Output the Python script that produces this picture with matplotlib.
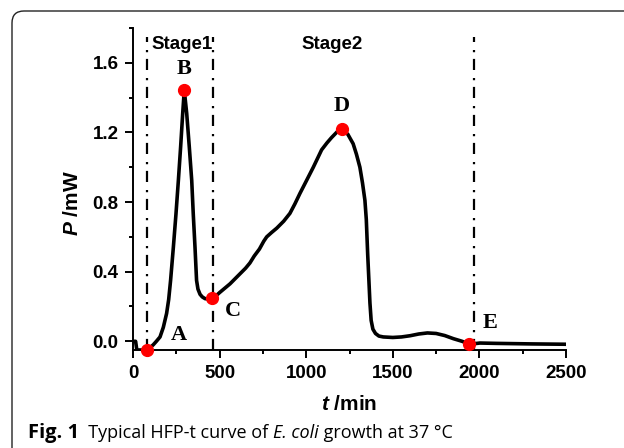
import matplotlib
matplotlib.use('Agg')
import matplotlib.pyplot as plt
from matplotlib.patches import FancyBboxPatch
from matplotlib.transforms import IdentityTransform
from matplotlib.ticker import MultipleLocator

plt.rcParams['font.family'] = ['Liberation Sans', 'DejaVu Sans']
plt.rcParams['mathtext.fontset'] = 'custom'
plt.rcParams['mathtext.it'] = 'Liberation Sans:italic:bold'

# HFP-t curve
t = [0, 15, 22, 80, 100, 117, 135, 156, 175, 194, 206, 217, 233, 248, 262,
     275, 287, 296, 310, 325, 339, 348, 358, 367, 375, 387, 400, 416, 435,
     454, 480, 500, 530, 560, 590, 620, 650, 675, 700, 730, 755, 772, 800,
     830, 870, 906, 935, 964, 1000, 1041, 1065, 1089, 1120, 1146, 1180,
     1204, 1240, 1271, 1290, 1310, 1325, 1339, 1347, 1355, 1362, 1368,
     1375, 1385, 1400, 1420, 1445, 1500, 1550, 1600, 1650, 1700, 1750,
     1800, 1850, 1900, 1942, 2003, 2100, 2300, 2500]
P = [0.0, 0.0, -0.05, -0.05, -0.035, -0.02, 0.0, 0.025, 0.08, 0.16, 0.24,
     0.35, 0.54, 0.73, 0.925, 1.117, 1.31, 1.443, 1.31, 1.117, 0.925, 0.73,
     0.54, 0.35, 0.30, 0.27, 0.255, 0.245, 0.243, 0.245, 0.262, 0.28, 0.305,
     0.33, 0.36, 0.39, 0.42, 0.45, 0.49, 0.53, 0.575, 0.60, 0.625, 0.65,
     0.69, 0.735, 0.79, 0.85, 0.92, 1.00, 1.05, 1.10, 1.14, 1.17, 1.205,
     1.216, 1.19, 1.135, 1.075, 1.00, 0.91, 0.81, 0.70, 0.50, 0.35, 0.22,
     0.12, 0.07, 0.045, 0.03, 0.025, 0.022, 0.025, 0.032, 0.042, 0.048,
     0.045, 0.033, 0.015, 0.0, -0.017, -0.01, -0.012, -0.015, -0.017]

pt_t = [80, 296, 454, 1204, 1942]
pt_P = [-0.05, 1.443, 0.247, 1.218, -0.017]
pt_lab = ['A', 'B', 'C', 'D', 'E']
lab_t = [265, 294, 579, 1207, 2061]
lab_P = [0.034, 1.563, 0.175, 1.351, 0.106]

stage_x = [80, 460, 1966]
stage_names = ['Stage1', 'Stage2']
stage_t = [281, 1149]

fig = plt.figure(figsize=(6.24, 4.48), dpi=100)
ax = fig.add_axes([133/624, 1-350/448, 433/624, 322/448])

ax.plot(t, P, color='black', lw=2.6, solid_joinstyle='round',
        solid_capstyle='round', zorder=3)
for x in stage_x:
    ax.plot([x, x], [-0.05, 1.75], color='black', lw=1.6,
            linestyle=(0, (5, 3, 1, 3.6)), zorder=2)
ax.plot(pt_t, pt_P, 'o', color='#ff0000', ms=8.5, zorder=5, clip_on=False)

for lab, x, y in zip(pt_lab, lab_t, lab_P):
    ax.text(x, y, lab, ha='center', va='center', fontsize=16,
            fontweight='bold', family='Liberation Serif')
for name, x in zip(stage_names, stage_t):
    ax.text(x, 1.703, name, ha='center', va='center', fontsize=13.5,
            fontweight='bold')

ax.set_xlim(0, 2500)
ax.set_ylim(-0.05, 1.8)
ax.xaxis.set_major_locator(MultipleLocator(500))
ax.xaxis.set_minor_locator(MultipleLocator(250))
ax.set_yticks([0.0, 0.4, 0.8, 1.2, 1.6])
ax.yaxis.set_minor_locator(MultipleLocator(0.2))
ax.set_yticklabels(['0.0', '0.4', '0.8', '1.2', '1.6'])
for s in ['top', 'right']:
    ax.spines[s].set_visible(False)
for s in ['left', 'bottom']:
    ax.spines[s].set_linewidth(1.4)
ax.tick_params(which='major', direction='out', length=6, width=1.4,
               labelsize=13.5, pad=4.5)
ax.tick_params(which='minor', direction='out', length=3, width=1.4)
for lbl in ax.get_xticklabels() + ax.get_yticklabels():
    lbl.set_fontweight('bold')

fig.text(72/624, 1-203/448, r'$P$ /mW', rotation=90, ha='center',
         va='center', fontsize=15, fontweight='bold')
fig.text(349.5/624, 1-404/448, r'$t$ /min', ha='center', va='center',
         fontsize=15, fontweight='bold')

# frame of the figure panel
box = FancyBboxPatch((12, -20), 640, 457, boxstyle='round,pad=0,rounding_size=12',
                     transform=IdentityTransform(), fill=False,
                     edgecolor='#222222', lw=1.0)
fig.patches.append(box)

# caption
cap_font = ['Open Sans', 'DejaVu Sans']
cs = 13.0
t1 = fig.text(28/624, 1-438/448, 'Fig. 1', fontsize=14.5, fontweight='bold',
              family=cap_font, va='baseline')
t2 = fig.text(0, 0, '  Typical HFP-t curve of ', fontsize=cs, family=cap_font)
t3 = fig.text(0, 0, 'E. coli', fontsize=cs, style='italic', family=cap_font)
t4 = fig.text(0, 0, ' growth at 37 °C', fontsize=cs, family=cap_font)
fig.canvas.draw()
r = fig.canvas.get_renderer()
prev = t1
for tx in [t2, t3, t4]:
    bb = prev.get_window_extent(r)
    tx.set_position((bb.x1/fig.bbox.width, prev.get_position()[1]))
    tx.set_va('baseline')
    prev = tx
    fig.canvas.draw()

fig.savefig('out.png', dpi=100)
